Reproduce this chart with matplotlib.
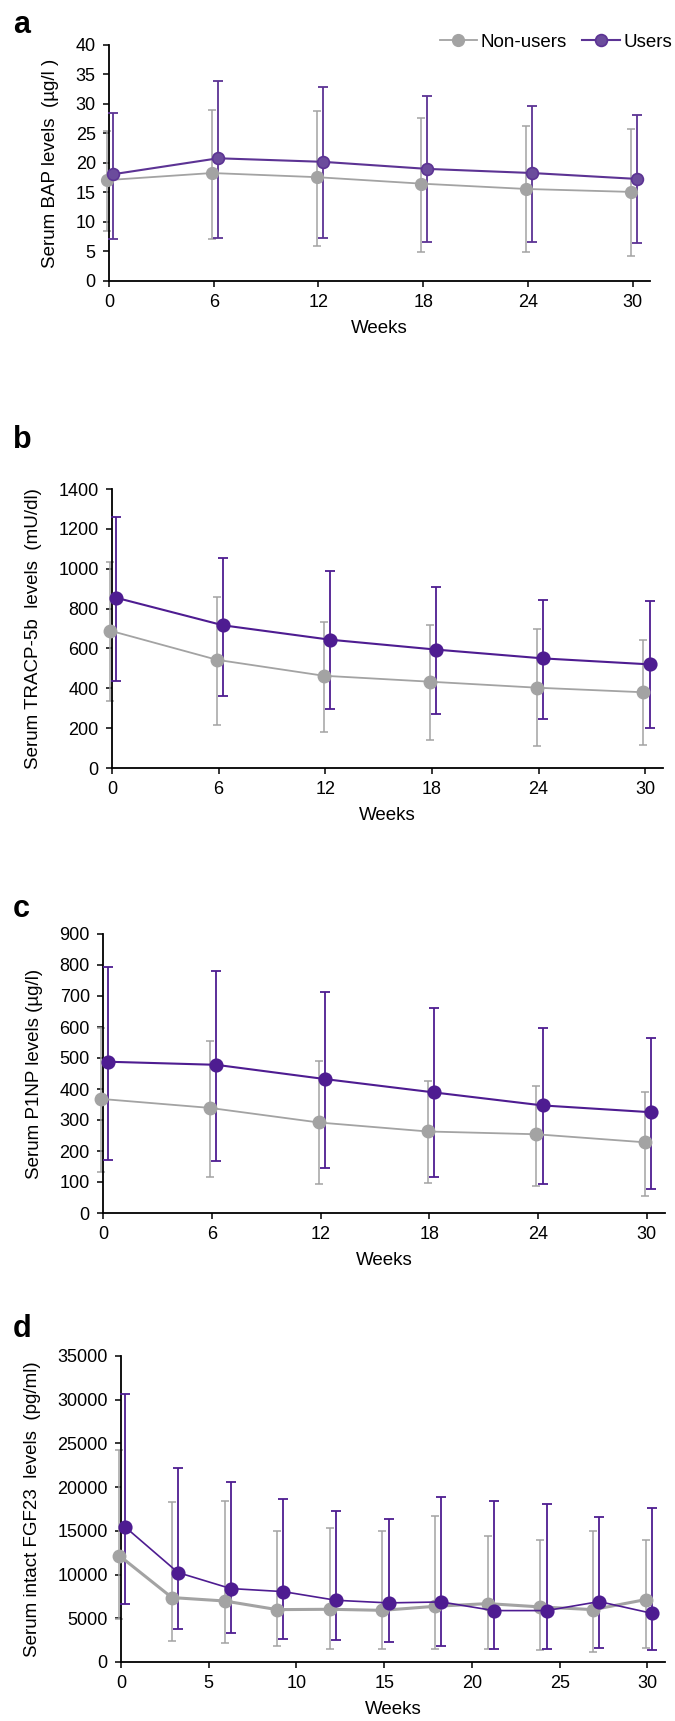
import matplotlib
matplotlib.use('Agg')
import matplotlib.pyplot as plt

plt.rcParams['font.family'] = ['Liberation Sans', 'DejaVu Sans']

weeks = [0, 6, 12, 18, 24, 30]
weeks_fgf = [0, 3, 6, 9, 12, 15, 18, 21, 24, 27, 30]

# a: BAP (ug/l)
bap_non = [17.1, 18.3, 17.6, 16.5, 15.6, 15.1]
bap_non_lo = [8.5, 7.2, 5.9, 4.9, 4.9, 4.2]
bap_non_hi = [25.5, 29.0, 28.8, 27.7, 26.3, 25.8]
bap_users = [18.1, 20.8, 20.2, 19.0, 18.3, 17.3]
bap_users_lo = [7.1, 7.3, 7.3, 6.6, 6.6, 6.4]
bap_users_hi = [28.5, 33.9, 32.9, 31.4, 29.7, 28.2]

# b: TRACP-5b (mU/dl)
tra_non = [689, 543, 463, 433, 403, 380]
tra_non_lo = [334, 217, 181, 139, 109, 117]
tra_non_hi = [1032, 856, 734, 717, 697, 640]
tra_users = [854, 716, 644, 594, 550, 520]
tra_users_lo = [435, 363, 298, 269, 246, 202]
tra_users_hi = [1258, 1054, 988, 908, 843, 836]

# c: P1NP (ug/l)
p1_non = [368, 339, 292, 263, 254, 228]
p1_non_lo = [131, 116, 92, 98, 88, 55]
p1_non_hi = [597, 556, 490, 426, 410, 391]
p1_users = [488, 478, 432, 389, 347, 325]
p1_users_lo = [172, 167, 144, 116, 92, 78]
p1_users_hi = [794, 780, 714, 662, 597, 565]

# d: intact FGF23 (pg/ml)
fgf_non = [12170, 7370, 6980, 5990, 6030, 5910, 6370, 6680, 6300, 5990, 7140]
fgf_non_lo = [4960, 2370, 2140, 1830, 1490, 1490, 1490, 1490, 1340, 1180, 1640]
fgf_non_hi = [24240, 18280, 18430, 14960, 15270, 14960, 16750, 14430, 13970, 14960, 13970]
fgf_users = [15420, 10230, 8400, 8050, 7060, 6760, 6870, 5880, 5880, 6910, 5570]
fgf_users_lo = [6680, 3780, 3320, 2630, 2480, 2330, 1790, 1490, 1490, 1640, 1340]
fgf_users_hi = [30690, 22210, 20570, 18590, 17290, 16300, 18890, 18430, 18090, 16560, 17600]

grey = '#a3a3a3'
purple = '#4e1c91'
purple_a = '#5c3394'
purple_a_face = '#6b4c9c'

W, H = 675, 1721
fig = plt.figure(figsize=(W / 100, H / 100), dpi=100)


def rect(left, right, top, bottom):
    return [left / W, 1 - bottom / H, (right - left) / W, (bottom - top) / H]


def panel(box, x, non, non_lo, non_hi, users, users_lo, users_hi,
          ymax, ystep, xticks, ylabel, letter, letter_y,
          ucol, uface, non_lw=1.3, users_lw=1.5, ms=9):
    ax = fig.add_axes(box)
    xn = [v - 0.1 for v in x]
    xu = [v + 0.25 for v in x]
    ax.errorbar(xn, non, yerr=[[m - l for m, l in zip(non, non_lo)],
                               [h - m for m, h in zip(non, non_hi)]],
                fmt='none', ecolor=grey, elinewidth=1.1, capsize=3,
                capthick=1.1, clip_on=False, zorder=2)
    ax.errorbar(xu, users, yerr=[[m - l for m, l in zip(users, users_lo)],
                                 [h - m for m, h in zip(users, users_hi)]],
                fmt='none', ecolor=ucol, elinewidth=1.3, capsize=3.3,
                capthick=1.3, clip_on=False, zorder=3)
    ax.plot(xn, non, color=grey, lw=non_lw, marker='o', ms=ms,
            mfc=grey, mec=grey, clip_on=False, zorder=4, label='Non-users')
    ax.plot(xu, users, color=ucol, lw=users_lw, marker='o', ms=ms,
            mfc=uface, mec=ucol, mew=1.2, clip_on=False, zorder=5,
            label='Users')
    ax.set_xlim(0, 31)
    ax.set_ylim(0, ymax)
    ax.set_xticks(xticks)
    ax.set_yticks(range(0, ymax + 1, ystep))
    for s in ['top', 'right']:
        ax.spines[s].set_visible(False)
    for s in ['left', 'bottom']:
        ax.spines[s].set_linewidth(1.3)
    ax.tick_params(direction='out', length=4.5, width=1.1, labelsize=13, pad=5)
    ax.set_xlabel('Weeks', fontsize=13.5, labelpad=6)
    ax.set_ylabel(ylabel, fontsize=13.5, labelpad=12)
    fig.text(13 / W, 1 - letter_y / H, letter, fontsize=22, fontweight='bold',
             ha='left', va='baseline')
    return ax


ax_a = panel(rect(109, 650, 45, 281), weeks, bap_non, bap_non_lo, bap_non_hi,
             bap_users, bap_users_lo, bap_users_hi, 40, 5, weeks,
             'Serum BAP levels  (\u00b5g/l )', 'a', 33,
             purple_a, purple_a_face, ms=8.5)
panel(rect(112, 663, 489, 768), weeks, tra_non, tra_non_lo, tra_non_hi,
      tra_users, tra_users_lo, tra_users_hi, 1400, 200, weeks,
      'Serum TRACP-5b  levels  (mU/dl)', 'b', 448, purple, purple)
panel(rect(103, 665, 934, 1213), weeks, p1_non, p1_non_lo, p1_non_hi,
      p1_users, p1_users_lo, p1_users_hi, 900, 100, weeks,
      'Serum P1NP levels (\u00b5g/l)', 'c', 917, purple, purple)
panel(rect(121, 665, 1356, 1662), weeks_fgf, fgf_non, fgf_non_lo, fgf_non_hi,
      fgf_users, fgf_users_lo, fgf_users_hi, 35000, 5000, range(0, 31, 5),
      'Serum intact FGF23  levels  (pg/ml)', 'd', 1337, purple, purple,
      non_lw=2.2, users_lw=1.2, ms=9)

ax_a.legend(loc='center right', bbox_to_anchor=(672 / W, 1 - 42 / H),
            bbox_transform=fig.transFigure, ncol=2, frameon=False,
            fontsize=13.5, handlelength=2.0, handletextpad=0.2,
            columnspacing=0.8, borderpad=0, borderaxespad=0)

fig.savefig('out.png', dpi=100)
